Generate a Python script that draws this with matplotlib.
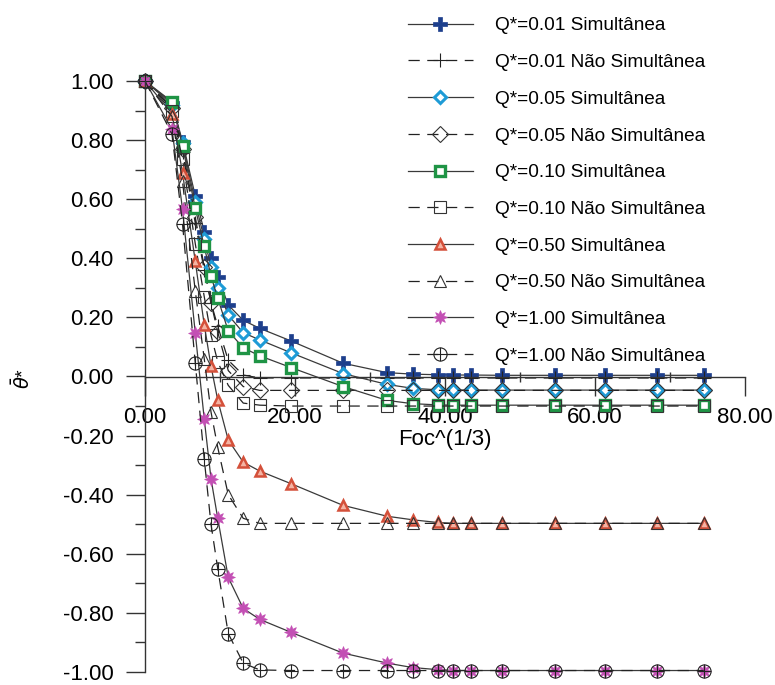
import matplotlib
matplotlib.use("Agg")
import matplotlib.pyplot as plt
from matplotlib.path import Path
from matplotlib.ticker import MultipleLocator, FormatStrFormatter

plt.rcParams['font.family'] = ['Liberation Sans', 'DejaVu Sans']

# Foc^(1/3) sampling positions (shared by every series)
foc = [0.0, 3.6, 5.0, 6.7, 7.9, 8.8, 9.7, 11.1, 13.1, 15.3, 19.5, 26.4,
       32.3, 35.7, 39.0, 41.1, 43.4, 47.6, 54.7, 61.3, 68.3, 74.5]

sim_001 = [1.0, 0.926, 0.795, 0.612, 0.49, 0.40, 0.338, 0.242, 0.19, 0.163, 0.12, 0.045,
           0.013, 0.008, 0.006, 0.005, 0.005, 0.004, 0.004, 0.004, 0.004, 0.004]
nao_001 = [1.0, 0.91, 0.76, 0.52, 0.36, 0.25, 0.17, 0.055, 0.005, -0.005, -0.005, -0.005,
           -0.005, -0.005, -0.005, -0.005, -0.005, -0.005, -0.005, -0.005, -0.005, -0.005]
sim_005 = [1.0, 0.92, 0.79, 0.59, 0.466, 0.372, 0.30, 0.208, 0.148, 0.124, 0.08, 0.01,
           -0.027, -0.04, -0.045, -0.046, -0.046, -0.046, -0.046, -0.046, -0.046, -0.046]
nao_005 = [1.0, 0.91, 0.77, 0.54, 0.37, 0.25, 0.15, 0.02, -0.034, -0.047, -0.047, -0.047,
           -0.047, -0.047, -0.047, -0.047, -0.047, -0.047, -0.047, -0.047, -0.047, -0.047]
sim_010 = [1.0, 0.93, 0.78, 0.57, 0.44, 0.34, 0.265, 0.154, 0.097, 0.07, 0.03, -0.034,
           -0.081, -0.092, -0.096, -0.097, -0.097, -0.097, -0.097, -0.097, -0.097, -0.097]
nao_010 = [1.0, 0.90, 0.735, 0.45, 0.27, 0.14, 0.05, -0.03, -0.09, -0.097, -0.1, -0.1,
           -0.1, -0.1, -0.1, -0.1, -0.1, -0.1, -0.1, -0.1, -0.1, -0.1]
sim_050 = [1.0, 0.89, 0.69, 0.39, 0.175, 0.035, -0.08, -0.215, -0.29, -0.32, -0.363, -0.436,
           -0.473, -0.485, -0.494, -0.497, -0.497, -0.497, -0.497, -0.497, -0.497, -0.497]
nao_050 = [1.0, 0.88, 0.66, 0.29, 0.06, -0.12, -0.24, -0.40, -0.48, -0.497, -0.497, -0.497,
           -0.497, -0.497, -0.497, -0.497, -0.497, -0.497, -0.497, -0.497, -0.497, -0.497]
sim_100 = [1.0, 0.836, 0.567, 0.148, -0.144, -0.346, -0.48, -0.68, -0.785, -0.822, -0.866, -0.936,
           -0.97, -0.985, -0.992, -0.995, -0.995, -0.995, -0.995, -0.995, -0.995, -0.995]
nao_100 = [1.0, 0.82, 0.517, 0.047, -0.28, -0.50, -0.65, -0.87, -0.97, -0.993, -0.995, -0.995,
           -0.995, -0.995, -0.995, -0.995, -0.995, -0.995, -0.995, -0.995, -0.995, -0.995]

labels = ["Q*=0.01 Simultânea", "Q*=0.01 Não Simultânea",
          "Q*=0.05 Simultânea", "Q*=0.05 Não Simultânea",
          "Q*=0.10 Simultânea", "Q*=0.10 Não Simultânea",
          "Q*=0.50 Simultânea", "Q*=0.50 Não Simultânea",
          "Q*=1.00 Simultânea", "Q*=1.00 Não Simultânea"]

# circle with a cross inside
oplus = Path.make_compound_path(
    Path.unit_circle(),
    Path([(-1, 0), (1, 0), (0, -1), (0, 1)],
         [Path.MOVETO, Path.LINETO, Path.MOVETO, Path.LINETO]))

solid_kw = dict(color='#3a3a3a', lw=0.9, ls='-')
dash_kw = dict(color='#222222', lw=0.9, ls=(0, (9, 6)))

styles = [
    dict(solid_kw, marker='P', ms=9.5, mfc='#1d3f8c', mec='#1d3f8c', mew=0.5),
    dict(dash_kw, marker='+', ms=10, mec='#222222', mew=0.8),
    dict(solid_kw, marker='D', ms=6, mfc='white', mec='#1e9bd6', mew=2.2),
    dict(dash_kw, marker='D', ms=8, mfc='none', mec='#333333', mew=0.8),
    dict(solid_kw, marker='s', ms=7, mfc='white', mec='#1f9445', mew=2.4),
    dict(dash_kw, marker='s', ms=9, mfc='none', mec='#333333', mew=0.8),
    dict(solid_kw, marker='^', ms=7.5, mfc='#f4b4a4', mec='#d4503a', mew=1.8),
    dict(dash_kw, marker='^', ms=8, mfc='none', mec='#333333', mew=0.8),
    dict(solid_kw, marker=(8, 1, 0), ms=10, mfc='#c34fb4', mec='#c34fb4', mew=0.5),
    dict(dash_kw, marker=oplus, ms=9.5, mfc='none', mec='#222222', mew=0.8),
]

series = [sim_001, nao_001, sim_005, nao_005, sim_010, nao_010,
          sim_050, nao_050, sim_100, nao_100]

fig = plt.figure(figsize=(7.75, 6.85), dpi=100)
ax = fig.add_axes([145 / 775, 1 - 672 / 685, 600 / 775, 591 / 685])

handles = []
for ys, st, lab in zip(series, styles, labels):
    h, = ax.plot(foc, ys, label=lab, clip_on=False, **st)
    handles.append(h)

ax.set_xlim(0, 80)
ax.set_ylim(-1, 1)

for side in ('top', 'right'):
    ax.spines[side].set_visible(False)
ax.spines['bottom'].set_position(('data', 0))
ax.spines['left'].set_position(('data', 0))
for side in ('bottom', 'left'):
    ax.spines[side].set_linewidth(1.0)
    ax.spines[side].set_color('#333333')

ax.xaxis.set_major_locator(MultipleLocator(20))
ax.xaxis.set_minor_locator(MultipleLocator(10))
ax.yaxis.set_major_locator(MultipleLocator(0.2))
ax.yaxis.set_minor_locator(MultipleLocator(0.1))
ax.xaxis.set_major_formatter(FormatStrFormatter('%.2f'))
ax.yaxis.set_major_formatter(FormatStrFormatter('%.2f'))

ax.tick_params(axis='x', which='major', direction='out', length=14, width=1.0,
               color='#333333', pad=8, labelsize=16)
ax.tick_params(axis='x', which='minor', direction='inout', length=7, width=1.0,
               color='#333333')
ax.tick_params(axis='y', which='major', direction='out', length=14, width=1.0,
               color='#333333', pad=8.5, labelsize=16)
ax.tick_params(axis='y', which='minor', direction='out', length=7, width=1.0,
               color='#333333')

ax.set_xlabel('Foc^(1/3)', fontsize=16, labelpad=1)
fig.text(23 / 775, 1 - 378 / 685, r'$\bar{\theta}$*', rotation=90,
         ha='center', va='center', fontsize=14)

fig.legend(handles, labels, loc='upper left',
           bbox_to_anchor=(408 / 775, 1 - 17 / 685),
           frameon=False, fontsize=13.7, handlelength=3.4, handletextpad=1.15,
           labelspacing=1.02, borderpad=0, borderaxespad=0, numpoints=1)

fig.savefig('out.png', dpi=100)
